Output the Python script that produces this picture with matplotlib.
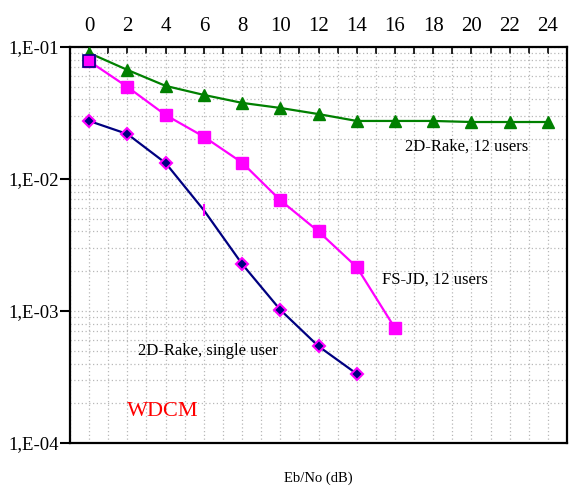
import numpy as np
import matplotlib.pyplot as plt
from matplotlib.ticker import MultipleLocator, LogLocator, NullFormatter

# Eb/No values (dB)
ebno_rake12 = [0, 2, 4, 6, 8, 10, 12, 14, 16, 18, 20, 22, 24]
ber_rake12 = [0.090, 0.067, 0.0507, 0.0433, 0.0377, 0.0345, 0.031, 0.0275, 0.0275, 0.0275, 0.027, 0.027, 0.027]

ebno_fsjd = [0, 2, 4, 6, 8, 10, 12, 14, 16]
ber_fsjd = [0.078, 0.0498, 0.0305, 0.0209, 0.0133, 0.0069, 0.0040, 0.00215, 0.00074]

ebno_single = [0, 2, 4, 6, 8, 10, 12, 14]
ber_single = [0.0275, 0.0219, 0.0132, 0.0058, 0.00227, 0.00102, 0.00054, 0.000334]

xticks = list(range(0, 25, 2))
yticks = [1e-1, 1e-2, 1e-3, 1e-4]
ytick_labels = ["1,E-01", "1,E-02", "1,E-03", "1,E-04"]

plt.rcParams['font.family'] = ['Liberation Serif', 'DejaVu Serif']

fig = plt.figure(figsize=(5.72, 4.92), dpi=100)
ax = fig.add_axes([0.1224, 0.0996, 0.869, 0.805])

ax.set_yscale('log')
ax.set_xlim(-1, 25)
ax.set_ylim(1e-4, 1e-1)

# dotted grid on every minor tick
ax.xaxis.set_minor_locator(MultipleLocator(1))
ax.yaxis.set_minor_locator(LogLocator(base=10, subs=np.arange(2, 10)))
ax.yaxis.set_minor_formatter(NullFormatter())
ax.grid(True, which='both', color='#b8b8b8', linestyle=(0, (1, 2)), linewidth=0.9)
ax.set_axisbelow(True)

# curves
ax.plot(ebno_rake12, ber_rake12, color='green', lw=1.6, marker='^', ms=9,
        mfc='green', mec='green', zorder=3)
ax.plot(ebno_fsjd, ber_fsjd, color='magenta', lw=1.6, marker='s', ms=8,
        mfc='magenta', mec='magenta', zorder=4)
ax.plot(ebno_fsjd[:1], ber_fsjd[:1], ls='none', marker='s', ms=9,
        mfc='none', mec='navy', mew=1.2, zorder=5)
keep = [i for i in range(len(ebno_single)) if i != 3]
ax.plot(ebno_single, ber_single, color='navy', lw=1.6, marker='D', ms=6,
        mfc='navy', mec='magenta', mew=1.5, markevery=keep, zorder=4)
ax.plot(ebno_single[3:4], ber_single[3:4], ls='none', marker='|', ms=8,
        mec='magenta', mew=1.5, zorder=5)

# ticks
ax.set_xticks(xticks)
ax.xaxis.tick_top()
ax.tick_params(axis='x', which='both', direction='in', length=5, width=1.2,
               labelsize=15, pad=8)
ax.set_yticks(yticks)
ax.set_yticklabels(ytick_labels)
ax.tick_params(axis='y', which='major', direction='out', length=7, width=1.5,
               labelsize=13.5, pad=1)
ax.tick_params(axis='y', which='minor', length=0)

for s in ax.spines.values():
    s.set_linewidth(1.6)

# annotations
ax.text(16.5, 0.0175, "2D-Rake, 12 users", fontsize=12, va='center')
ax.text(15.3, 0.00174, "FS-JD, 12 users", fontsize=12, va='center')
ax.text(2.55, 0.0005, "2D-Rake, single user", fontsize=12, va='center')
ax.text(2.0, 0.000172, "WDCM", fontsize=16, color='red', va='center')

fig.text(318 / 572, 1 - 478 / 492, "Eb/No (dB)", fontsize=10.5, ha='center', va='center')

fig.savefig("out.png", dpi=100)
